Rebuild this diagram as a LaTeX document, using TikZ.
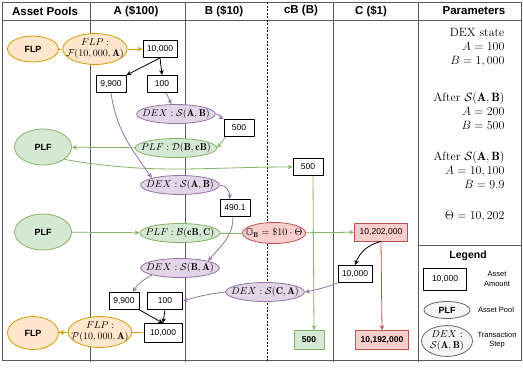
\documentclass[tikz,border=0pt]{standalone}
\usepackage{amsmath,amssymb}
\usepackage{fontspec}
\setsansfont{Liberation Sans}
\usetikzlibrary{arrows.meta,positioning,shapes.geometric}
\definecolor{cO}{HTML}{d79b00}
\definecolor{cOF}{HTML}{ffe6cc}
\definecolor{cG}{HTML}{82b366}
\definecolor{cGF}{HTML}{d5e8d4}
\definecolor{cP}{HTML}{9673a6}
\definecolor{cPF}{HTML}{e1d5e7}
\definecolor{cR}{HTML}{b85450}
\definecolor{cRF}{HTML}{f8cecc}
\definecolor{cY}{HTML}{666666}
\definecolor{cYF}{HTML}{f5f5f5}
\tikzset{
  colline/.style={draw=black!65,line width=.8pt},
  hdr/.style={font=\sffamily\bfseries\fontsize{11.5}{13}\selectfont},
  amt/.style={draw=black,fill=white,line width=.8pt,minimum width=30pt,
              minimum height=17pt,inner xsep=4pt,
              font=\sffamily\fontsize{8.5}{10}\selectfont},
  oval/.style={ellipse,line width=.8pt,inner xsep=-6pt,inner ysep=.5pt,
              minimum height=19pt,align=center,font=\fontsize{10}{11.5}\selectfont},
  pool/.style={oval,font=\sffamily\bfseries\fontsize{9}{11}\selectfont},
  flp/.style={draw=cO,fill=cOF},
  plf/.style={draw=cG,fill=cGF},
  dex/.style={draw=cP,fill=cPF},
  ora/.style={draw=cR,fill=cRF},
  lgd/.style={draw=cY,fill=cYF},
  link/.style={line width=.8pt},
  flow/.style={link,-{Stealth[length=5pt,width=4.5pt]}},
  parm/.style={anchor=east,align=right,font=\fontsize{12}{14}\selectfont},
  note/.style={align=center,font=\sffamily\fontsize{7.5}{9.5}\selectfont},
}

\begin{document}
\begin{tikzpicture}[x=1pt,y=1pt]
  \useasboundingbox (0,0) rectangle (523,-373);
  % table frame and columns
  \draw[colline] (2,-2) rectangle (521,-360);
  \draw[colline] (2,-20) -- (521,-20);
  \draw[colline] (418,-245) -- (521,-245);
  \foreach \x in {90,185,333,418}{
     \draw[colline] (\x,-2) -- (\x,-362);
  }
  \draw[colline,black,dash pattern=on 2pt off 1.5pt] (267,-2) -- (267,-362);
  \foreach \n/\x/\t in {hPool/45/Asset Pools,hA/136/A (\$100),hB/224/B (\$10),
                        hcB/301/cB (B),hC/371/C (\$1),hPar/474/Parameters}{
     \node[hdr] (\n) at (\x,-11) {\t};
  }

  % first flash loan and swap A -> B
  \node[pool,flp,minimum width=51pt,minimum height=26pt] (flpT) at (33,-49) {FLP};
  \node[oval,flp] (flpF) at (95,-49) {$FLP:$\\$\mathcal{F}(10,000,\mathbf{A})$};
  \node[amt] (a10kT) at (160,-49) {10,000};
  \node[amt] (a9900T) at (111,-84) {9,900};
  \node[amt] (a100T) at (162,-84) {100};
  \node[oval,dex] (dexAB1) at (176,-114) {$DEX:\mathcal{S}(\mathbf{A},\mathbf{B})$};
  \node[amt] (b500) at (239,-128) {500};
  \node[oval,plf] (plfD) at (176,-148) {$PLF:\mathcal{D}(\mathbf{B},\mathbf{cB})$};
  \node[pool,plf,minimum width=57pt,minimum height=36pt] (plfT) at (43,-147) {PLF};
  \node[amt] (cb500) at (308,-167) {500};
  \node[oval,dex] (dexAB2) at (180,-185) {$DEX:\mathcal{S}(\mathbf{A},\mathbf{B})$};
  \node[amt] (b490) at (235,-208) {490.1};

  % borrow C against cB
  \node[pool,plf,minimum width=57pt,minimum height=36pt] (plfB) at (43,-232) {PLF};
  \node[oval,plf] (plfBr) at (180,-233) {$PLF:\mathcal{B}(\mathbf{cB},\mathbf{C})$};
  \node[oval,ora,minimum height=21pt] (oraB) at (274,-233) {$\mathbb{O}_{\mathbf{B}}=\$10\cdot\Theta$};
  \node[amt,ora,minimum width=53pt,minimum height=18pt] (c10202) at (381,-232) {10,202,000};
  \node[oval,dex] (dexBA) at (180,-268) {$DEX:\mathcal{S}(\mathbf{B},\mathbf{A})$};
  \node[amt] (c10k) at (355,-274) {10,000};
  \node[oval,dex] (dexCA) at (265,-292) {$DEX:\mathcal{S}(\mathbf{C},\mathbf{A})$};

  % repay the flash loan
  \node[amt] (a9900B) at (124,-301) {9,900};
  \node[amt,minimum width=35pt] (a100B) at (165,-301) {100};
  \node[amt,minimum width=38pt,minimum height=19pt] (a10kB) at (163,-333) {10,000};
  \node[oval,flp] (flpP) at (100,-332) {$FLP:$\\$\mathcal{P}(10,000,\mathbf{A})$};
  \node[pool,flp,minimum width=51pt,minimum height=33pt] (flpB) at (33,-333) {FLP};
  \node[amt,plf,font=\sffamily\bfseries\fontsize{8.5}{10}\selectfont,
        minimum height=19pt] (cb500B) at (309,-340) {500};
  \node[amt,ora,font=\sffamily\bfseries\fontsize{8.5}{10}\selectfont,
        minimum width=53pt,minimum height=19pt] (c10192) at (382,-340) {10,192,000};

  % connectors
  \draw[link,cO] (flpT) -- (flpF);
  \draw[flow,cO] (flpF) -- (a10kT);
  \draw[flow] (a10kT.south) -- (a9900T.north east);
  \draw[flow] (a10kT.south) -- (a100T.north);
  \draw[flow,cP] (a100T) -- (dexAB1);
  \draw[flow,cP] (dexAB1.east) to[out=0,in=150] (b500.north west);
  \draw[flow,cG] ([xshift=2pt]b500.south west) -- (plfD.east);
  \draw[flow,cG] (plfD) -- (plfT);
  \draw[flow,cG] (plfT.-30) to[out=-10,in=180] (cb500.west);
  \draw[flow,cP] (a9900T.south) to[out=-82,in=125] (dexAB2.north west);
  \draw[flow,cP] (dexAB2.east) to[out=0,in=90] (b490.120);
  \draw[flow,cP] ([xshift=-2pt]b490.south) to[out=-90,in=50] (dexBA.north east);
  \draw[flow,cG] (plfB) -- (plfBr);
  \draw[link,cG] (plfBr) -- (oraB);
  \draw[flow,cG] (oraB) -- (c10202);
  \draw[flow,cG] ([xshift=5pt]cb500.south) -- ([xshift=5pt]cb500B.north);
  \draw[flow,cR] (c10202.south) -- (c10192.north);
  \draw[flow] (c10202.south) to[out=-165,in=70] (c10k.north);
  \draw[flow,cP] (c10k.south west) to[bend left=5] (dexCA.east);
  \draw[flow,cP] (dexCA.west) to[bend right=5] (a100B.east);
  \draw[flow,cP] (dexBA.south west) to[out=-150,in=60] (a9900B.45);
  \draw[flow] (a9900B.south east) -- (a10kB.north);
  \draw[flow] (a100B.south) -- (a10kB.north);
  \draw[link,cO] (a10kB) -- (flpP);
  \draw[flow,cO] (flpP) -- (flpB);

  % parameters
  \node[parm] (pState) at (508,-48) {DEX state\\$A=100$\\$B=1,000$};
  \node[parm] (pSwap1) at (508,-111) {After $\mathcal{S}(\mathbf{A},\mathbf{B})$\\$A=200$\\$B=500$};
  \node[parm] (pSwap2) at (508,-170) {After $\mathcal{S}(\mathbf{A},\mathbf{B})$\\$A=10,100$\\$B=9.9$};
  \node[parm] (pTheta) at (508,-217) {$\Theta=10,202$};

  % legend
  \node[font=\sffamily\bfseries\fontsize{10.5}{12}\selectfont] (lgT) at (468,-256) {Legend};
  \node[amt,minimum width=43pt,minimum height=22pt] (lgAmt) at (445,-279) {10,000};
  \node[pool,lgd,minimum width=46pt,minimum height=17pt] (lgPool) at (447,-310) {PLF};
  \node[oval,lgd,minimum width=51pt,minimum height=28pt] (lgStep) at (447,-341)
       {$DEX:$\\$\mathcal{S}(\mathbf{A},\mathbf{B})$};
  \node[note] (lgAmtT) at (497,-279) {Asset\\Amount};
  \node[note] (lgPoolT) at (496,-310) {Asset Pool};
  \node[note] (lgStepT) at (497,-340) {Transaction\\Step};
\end{tikzpicture}
\end{document}
